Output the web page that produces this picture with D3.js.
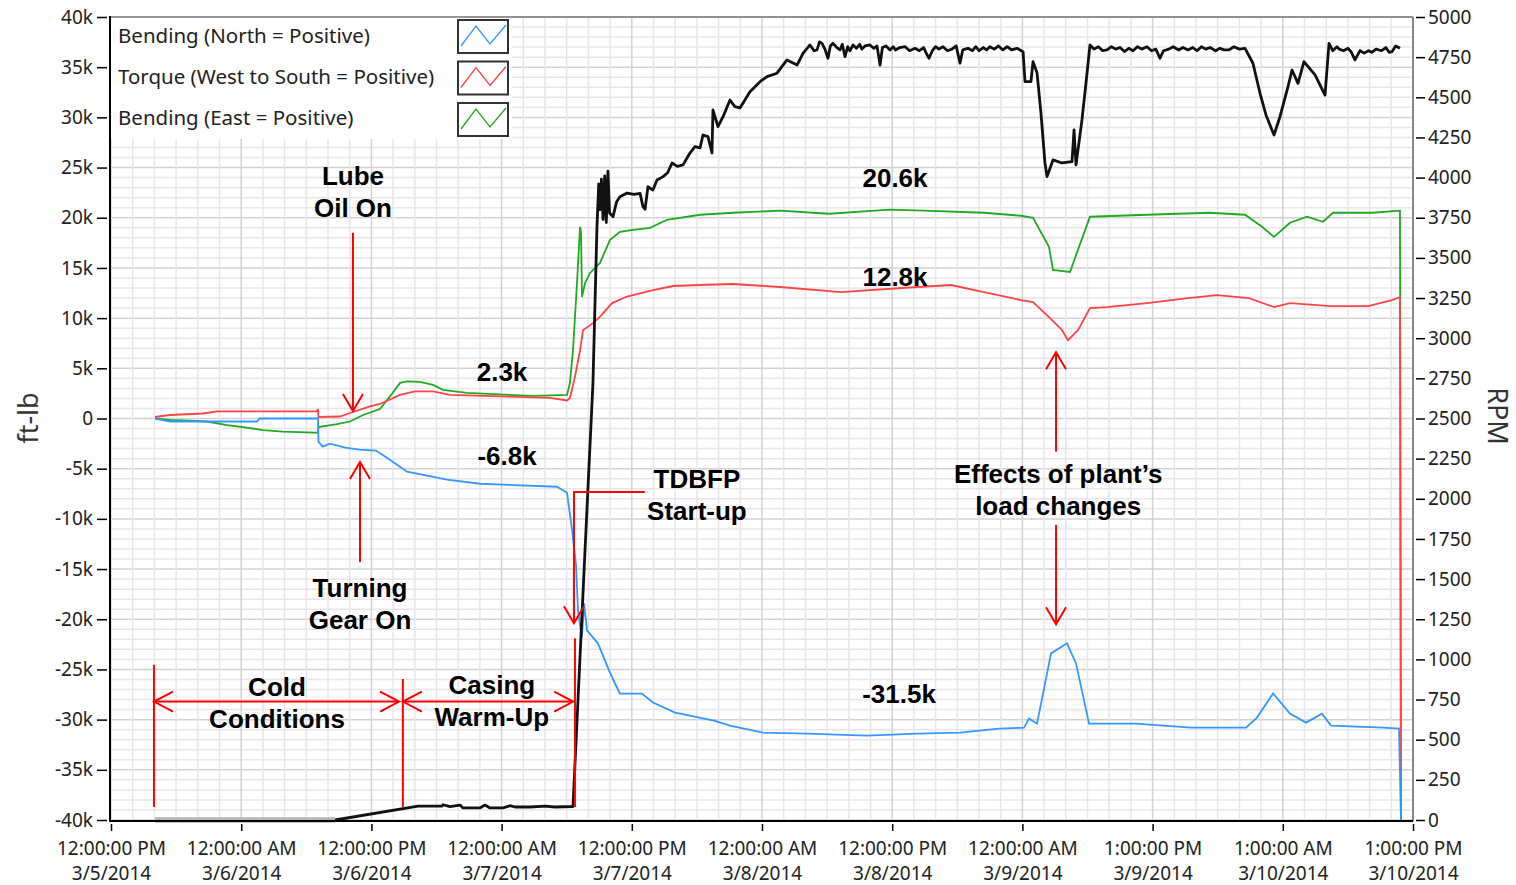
<!DOCTYPE html>
<html>
<head>
<meta charset="utf-8">
<script src="https://cdn.jsdelivr.net/npm/d3@7"></script>
<style>
  body { margin: 0; background: #fff; }
  svg { display: block; }
  .tick text { font-family: "Noto Sans", sans-serif; fill: #222; }
  .note { font-family: "Liberation Sans", Arial, sans-serif; font-weight: bold; font-size: 26px; fill: #000; }
</style>
</head>
<body>
<svg id="chart" width="1516" height="885"></svg>
<script>
// hours since 12:00 PM 3/5/2014, value in k ft-lb
var bendingNorth = [
  [4.06,0],[5.44,-0.3],[13.46,-0.3],[13.7,0],[19.08,0],[19.12,-2.3],[19.5,-2.8],[20.18,-2.5],
  [21.6,-2.9],[22.9,-3.1],[24.42,-3.2],[25.7,-4.1],[27.28,-5.3],[30.97,-6.1],[34.01,-6.5],
  [41.11,-6.8],[42.03,-7.4],[42.49,-11.1],[42.86,-14.6],[43.04,-19.1],[43.23,-20.6],[43.41,-21.8],
  [43.6,-18.4],[43.87,-21.1],[44.88,-22.4],[45.9,-25.1],[46.45,-26.4],[46.91,-27.4],[48.94,-27.4],
  [49.95,-28.3],[51.98,-29.3],[55.58,-30.1],[57.05,-30.6],[60.09,-31.3],[64.15,-31.4],[69.68,-31.6],
  [74.29,-31.4],[78.25,-31.3],[81.84,-30.9],[84.15,-30.8],[84.61,-29.9],[85.35,-30.4],[86.64,-23.4],
  [88.11,-22.4],[88.94,-24.4],[90.14,-30.4],[94.47,-30.4],[99.54,-30.8],[104.61,-30.8],[105.62,-29.8],
  [107.1,-27.4],[108.66,-29.4],[110.14,-30.3],[111.61,-29.4],[112.44,-30.6],[117.24,-30.8],
  [118.71,-30.9],[118.89,-40]
];
var torque = [
  [4.06,0.15],[5.44,0.35],[8.48,0.5],[9.77,0.7],[18.99,0.7],[19.08,0.95],[19.12,0.15],[21.11,0.2],
  [22.03,0.55],[23.87,1.2],[24.79,1.45],[26.64,2.35],[28.02,2.7],[29.68,2.7],[31.24,2.35],[35.85,2.2],
  [40.46,2.05],[42.03,1.8],[42.3,2.05],[42.76,4.15],[43.23,6.8],[43.5,8.8],[44.42,9.5],[45.07,10.15],
  [46.18,11.5],[47.56,12.15],[49.95,12.8],[51.8,13.2],[54.29,13.3],[57.33,13.4],[61.66,13.1],
  [67.28,12.6],[72.9,13.0],[77.42,13.3],[80.46,12.6],[83.87,11.8],[84.98,11.6],[86.45,10.1],
  [87.65,8.8],[88.2,7.8],[89.12,8.8],[90.23,11.0],[91.8,11.1],[95.48,11.5],[99.26,12.0],[101.94,12.3],
  [104.88,12.0],[107.19,11.1],[108.66,11.5],[112.44,11.2],[115.85,11.2],[118.06,11.8],[118.8,12.1],
  [118.89,-40]
];
var bendingEast = [
  [4.06,0],[5.44,-0.15],[8.85,-0.3],[10.69,-0.65],[12.17,-0.85],[14.01,-1.15],[15.85,-1.3],[18.8,-1.4],
  [19.08,-1.4],[19.12,-0.85],[20.83,-0.55],[22.03,-0.3],[23.23,0.35],[24.15,0.7],[24.79,0.95],
  [25.71,2.2],[26.64,3.55],[27.28,3.7],[28.48,3.65],[29.68,3.35],[30.6,2.85],[32.81,2.55],[38.89,2.25],
  [42.03,2.35],[42.3,3.55],[42.58,6.8],[42.95,13.5],[43.23,19.1],[43.32,18.5],[43.41,12.1],[43.69,13.5],
  [44.15,14.5],[45.07,15.5],[45.99,17.8],[46.91,18.6],[48.11,18.8],[49.68,19.0],[51.24,19.8],
  [54.29,20.3],[57.33,20.5],[61.66,20.7],[66.18,20.4],[71.8,20.8],[74.84,20.7],[80.46,20.5],
  [83.87,20.2],[84.98,20.0],[86.45,17.1],[86.82,14.8],[88.39,14.6],[89.12,16.8],[90.23,20.1],
  [95.48,20.3],[101.2,20.5],[104.52,20.3],[106.08,19.1],[107.19,18.1],[108.66,19.5],[110.23,20.1],
  [111.71,19.6],[112.63,20.5],[116.22,20.5],[118.8,20.7],[118.89,-40]
];
// RPM, right axis
var rpm = [
  [4.06,0],[20.65,0],[28.3,87],[30.51,87],[30.6,95],[31.24,83],[32.17,93],[32.44,75],[34.0,75],
  [34.47,93],[34.93,75],[36.13,75],[36.77,89],[37.24,81],[38.62,81],[40.0,87],[40.92,81],[42.58,84],
  [43.69,1681],[44.42,2721],[44.79,3694],[44.95,3960],[45.07,3800],[45.2,3990],[45.35,3740],
  [45.5,4010],[45.65,3720],[45.8,4040],[45.95,3780],[46.27,3757],[46.6,3850],[46.91,3881],
  [47.56,3904],[48.2,3895],[48.76,3902],[49.03,3819],[49.22,3803],[49.49,3943],[49.95,3923],
  [50.32,3985],[50.88,4006],[51.3,4030],[51.71,4091],[52.2,4070],[52.72,4079],[53.36,4153],
  [53.82,4193],[54.29,4185],[54.56,4265],[55.02,4255],[55.39,4153],[55.48,4421],[55.94,4317],
  [56.41,4379],[57.05,4483],[57.51,4442],[57.97,4434],[58.89,4535],[59.82,4597],[60.46,4629],
  [61.38,4650],[62.3,4733],[63.23,4701],[63.78,4774],[64.42,4826],[64.8,4790],[65.07,4795],
  [65.3,4845],[65.53,4836],[65.8,4800],[66.08,4743],[66.3,4820],[66.54,4836],[66.9,4810],
  [67.19,4795],[67.4,4830],[67.65,4753],[67.9,4815],[68.1,4790],[68.39,4826],[68.7,4805],
  [69.0,4830],[69.2,4800],[69.5,4820],[69.95,4826],[70.3,4805],[70.6,4820],[70.88,4701],
  [71.1,4810],[71.43,4820],[71.8,4795],[72.1,4815],[72.3,4795],[72.7,4810],[73.2,4815],
  [73.6,4790],[74.1,4805],[74.5,4790],[74.9,4810],[75.1,4780],[75.39,4743],[75.7,4790],
  [76.0,4815],[76.3,4800],[76.68,4815],[77.1,4790],[77.5,4800],[77.9,4820],[78.25,4712],
  [78.5,4795],[78.99,4805],[79.4,4790],[79.7,4815],[80.0,4790],[80.4,4810],[80.7,4795],
  [81.0,4815],[81.4,4800],[81.8,4820],[82.2,4795],[82.6,4815],[83.0,4795],[83.5,4805],
  [84.06,4784],[84.24,4597],[84.79,4597],[84.98,4722],[85.35,4652],[85.71,4402],[86.08,4091],
  [86.27,4006],[86.82,4110],[87.65,4091],[88.57,4099],[88.76,4297],[88.94,4079],[89.49,4359],
  [89.86,4589],[90.23,4826],[90.6,4800],[91.0,4815],[91.4,4790],[91.8,4795],[92.2,4815],
  [92.6,4800],[93.0,4810],[93.4,4785],[93.8,4805],[94.2,4790],[94.6,4815],[95.0,4800],
  [95.48,4815],[95.9,4790],[96.3,4800],[96.68,4743],[97.0,4790],[97.5,4800],[97.9,4815],
  [98.4,4795],[98.8,4810],[99.26,4795],[99.7,4810],[100.1,4790],[100.5,4815],[100.9,4800],
  [101.3,4810],[101.8,4790],[102.2,4805],[102.6,4795],[103.04,4795],[103.5,4815],[104.0,4800],
  [104.52,4805],[105.25,4712],[105.9,4525],[106.45,4390],[107.19,4265],[107.74,4379],
  [108.48,4566],[108.85,4670],[109.4,4587],[109.95,4722],[110.97,4639],[111.89,4514],
  [112.26,4836],[112.6,4790],[113.0,4815],[113.2,4800],[113.6,4790],[114.0,4805],[114.29,4784],
  [114.65,4733],[115.12,4791],[115.5,4775],[115.9,4790],[116.2,4780],[116.6,4800],[117.1,4790],
  [117.5,4810],[117.8,4780],[118.06,4784],[118.4,4820],[118.8,4805]
];

var ftlbTicks = [-40,-35,-30,-25,-20,-15,-10,-5,0,5,10,15,20,25,30,35,40];
var rpmTicks = [0,250,500,750,1000,1250,1500,1750,2000,2250,2500,2750,3000,3250,3500,3750,4000,4250,4500,4750,5000];
var timeTicks = [0,12,24,36,48,60,72,84,96,108,120];
var timeTickLabels = [
  ["12:00:00 PM","3/5/2014"],["12:00:00 AM","3/6/2014"],["12:00:00 PM","3/6/2014"],
  ["12:00:00 AM","3/7/2014"],["12:00:00 PM","3/7/2014"],["12:00:00 AM","3/8/2014"],
  ["12:00:00 PM","3/8/2014"],["12:00:00 AM","3/9/2014"],["1:00:00 PM","3/9/2014"],
  ["1:00:00 AM","3/10/2014"],["1:00:00 PM","3/10/2014"]
];
var legendNames = ["Bending (North = Positive)", "Torque (West to South = Positive)", "Bending (East = Positive)"];
var legendColors = ["#3399ff", "#ff4444", "#1faa1f"];

// value labels [hour, k, text]
var valueLabels = [[36.04,3.7,"2.3k"],[36.5,-4.6,"-6.8k"],[72.26,23.1,"20.6k"],[72.26,13.25,"12.8k"],[72.63,-28.3,"-31.5k"]];

var plotLeft = 111, plotRight = 1413, plotTop = 17, plotBottom = 820;
var svg = d3.select("#chart");

var x = d3.scaleLinear().domain([0, 120]).range([plotLeft, plotRight]);
var y = d3.scaleLinear().domain([-40, 40]).range([plotBottom, plotTop]);
var yR = d3.scaleLinear().domain([0, 5000]).range([plotBottom, plotTop]);

// grid
var grid = svg.append("g");
grid.selectAll(".hmin").data(d3.range(-40, 41, 1)).enter().append("line")
  .attr("y1", d => y(d)).attr("y2", d => y(d)).attr("x1", plotLeft).attr("x2", plotRight)
  .attr("stroke", d => d % 5 === 0 ? "#d2d2d2" : "#ebe5eb").attr("stroke-width", 1.5);
grid.selectAll(".vmin").data(d3.range(0, 121, 2)).enter().append("line")
  .attr("x1", d => x(d)).attr("x2", d => x(d)).attr("y1", plotTop).attr("y2", plotBottom)
  .attr("stroke", d => d % 12 === 0 ? "#d2d2d2" : "#ebe5eb").attr("stroke-width", 1.5);

// legend
var legend = svg.append("g");
legend.append("rect").attr("x", plotLeft).attr("y", plotTop).attr("width", 401).attr("height", 122).attr("fill", "#fff");
legendNames.forEach(function(name, i) {
  var ty = 43 + i * 41;
  legend.append("text").attr("x", 118).attr("y", ty)
    .style("font-family", "Noto Sans, sans-serif").style("font-size", "20.5px").attr("fill", "#222")
    .text(name);
  var sy = 20 + i * 41.5;
  legend.append("rect").attr("x", 458).attr("y", sy).attr("width", 50).attr("height", 33)
    .attr("fill", "#fff").attr("stroke", "#333").attr("stroke-width", 2);
  legend.append("polyline")
    .attr("points", [[461, sy + 26], [476, sy + 6], [490, sy + 24], [506, sy + 5]].map(p => p.join(",")).join(" "))
    .attr("fill", "none").attr("stroke", legendColors[i]).attr("stroke-width", 1.3);
});

// series
var line = d3.line().x(d => x(d[0])).y(d => y(d[1]));
var lineR = d3.line().x(d => x(d[0])).y(d => yR(d[1]));

svg.append("path").datum(bendingEast).attr("d", line)
  .attr("fill", "none").attr("stroke", legendColors[2]).attr("stroke-width", 1.8);
svg.append("path").datum(torque).attr("d", line)
  .attr("fill", "none").attr("stroke", legendColors[1]).attr("stroke-width", 1.8);
svg.append("path").datum(bendingNorth).attr("d", line)
  .attr("fill", "none").attr("stroke", legendColors[0]).attr("stroke-width", 1.8);

svg.append("path").datum(rpm.filter(d => d[1] === 0)).attr("d", lineR)
  .attr("fill", "none").attr("stroke", "#b5b5b5").attr("stroke-width", 5.5);
svg.append("path").datum(rpm.filter((d, i) => i > 0)).attr("d", lineR)
  .attr("fill", "none").attr("stroke", "#111").attr("stroke-width", 2.8).attr("stroke-linejoin", "round");

// annotations
var red = "#ff0000";
var ann = svg.append("g").attr("stroke", red).attr("stroke-width", 2).attr("fill", "none");

function seg(h1, k1, h2, k2) {
  ann.append("line").attr("x1", x(h1)).attr("y1", y(k1)).attr("x2", x(h2)).attr("y2", y(k2));
}
function headV(h, k, dir) { // dir 1 = pointing down, -1 = up
  var px = x(h), py = y(k);
  ann.append("polyline").attr("points", [[px - 10, py - dir * 17], [px, py], [px + 10, py - dir * 17]].map(p => p.join(",")).join(" "));
}
function headH(h, k, dir) { // dir 1 = pointing right, -1 = left
  var px = x(h), py = y(k);
  ann.append("polyline").attr("points", [[px - dir * 19, py - 10], [px, py], [px - dir * 19, py + 10]].map(p => p.join(",")).join(" "));
}
function note(h, k, lines) {
  lines.forEach(function(t, i) {
    svg.append("text").attr("class", "note").attr("x", x(h)).attr("y", y(k) + i * 32)
      .attr("text-anchor", "middle").text(t);
  });
}

// lube oil on
seg(22.3, 18.5, 22.3, 0.75); headV(22.3, 0.75, 1);
note(22.3, 23.3, ["Lube", "Oil On"]);
// turning gear on
seg(22.95, -14.3, 22.95, -4.33); headV(22.95, -4.33, -1);
note(22.95, -17.8, ["Turning", "Gear On"]);
// cold conditions / casing warm-up
seg(3.96, -24.55, 3.96, -38.7);
seg(26.9, -25.95, 26.9, -38.7);
seg(42.76, -21.9, 42.76, -38.7);
seg(3.96, -28.2, 26.55, -28.2); headH(3.96, -28.2, -1); headH(26.55, -28.2, 1);
seg(26.9, -28.2, 42.6, -28.2); headH(26.9, -28.2, -1); headH(42.6, -28.2, 1);
note(15.3, -27.6, ["Cold", "Conditions"]);
note(35.1, -27.4, ["Casing", "Warm-Up"]);
// TDBFP start-up
ann.append("polyline").attr("points", [[x(49.2), y(-7.32)], [x(42.67), y(-7.32)], [x(42.67), y(-20.4)]].map(p => p.join(",")).join(" "));
headV(42.67, -20.4, 1);
note(54.0, -6.9, ["TDBFP", "Start-up"]);
// load changes
seg(87.1, -3.3, 87.1, 6.6); headV(87.1, 6.6, -1);
seg(87.1, -10.6, 87.1, -20.5); headV(87.1, -20.5, 1);
note(87.3, -6.4, ["Effects of plant\u2019s", "load changes"]);

valueLabels.forEach(function(v) {
  svg.append("text").attr("class", "note").attr("x", x(v[0])).attr("y", y(v[1]))
    .attr("text-anchor", "middle").text(v[2]);
});

// frame
svg.append("line").attr("x1", plotLeft).attr("x2", plotRight).attr("y1", plotTop).attr("y2", plotTop).attr("stroke", "#777").attr("stroke-width", 1.5);
svg.append("line").attr("x1", plotRight).attr("x2", plotRight).attr("y1", plotTop).attr("y2", plotBottom + 1).attr("stroke", "#888").attr("stroke-width", 2);
svg.append("line").attr("x1", plotLeft - 1).attr("x2", plotLeft - 1).attr("y1", plotTop - 1).attr("y2", plotBottom + 2).attr("stroke", "#000").attr("stroke-width", 2);
svg.append("line").attr("x1", plotLeft - 2).attr("x2", plotRight).attr("y1", plotBottom + 1).attr("y2", plotBottom + 1).attr("stroke", "#000").attr("stroke-width", 2);

// axes
var yAxis = svg.append("g").attr("transform", "translate(107,0)")
  .call(d3.axisLeft(y).tickValues(ftlbTicks).tickSizeInner(10).tickSizeOuter(0).tickPadding(4)
    .tickFormat(d => d === 0 ? "0" : d + "k"));
yAxis.select(".domain").remove();
yAxis.selectAll(".tick text").style("font-size", "19px");
yAxis.selectAll(".tick line").attr("stroke", "#000").attr("stroke-width", 1.5);

var rAxis = svg.append("g").attr("transform", "translate(1416,0)")
  .call(d3.axisRight(yR).tickValues(rpmTicks).tickSizeInner(9).tickSizeOuter(0).tickPadding(3)
    .tickFormat(d => String(d)));
rAxis.select(".domain").remove();
rAxis.selectAll(".tick text").style("font-size", "19px");
rAxis.selectAll(".tick line").attr("stroke", "#000").attr("stroke-width", 1.5);

var xAxis = svg.append("g").attr("transform", "translate(0,824)")
  .call(d3.axisBottom(x).tickValues(timeTicks).tickSizeInner(7).tickSizeOuter(0).tickFormat(""));
xAxis.select(".domain").remove();
xAxis.selectAll(".tick line").attr("stroke", "#000").attr("stroke-width", 1.5);
xAxis.selectAll(".tick").each(function(d, i) {
  var t = d3.select(this).append("text").attr("text-anchor", "middle").style("font-size", "19px");
  t.append("tspan").attr("x", 0).attr("y", 31).text(timeTickLabels[i][0]);
  t.append("tspan").attr("x", 0).attr("y", 56).text(timeTickLabels[i][1]);
});

// axis titles
svg.append("text").attr("transform", "translate(38,418) rotate(-90)").attr("text-anchor", "middle")
  .style("font-family", "Noto Sans, sans-serif").style("font-size", "27px").attr("fill", "#333").text("ft-lb");
svg.append("text").attr("transform", "translate(1488,416) rotate(90)").attr("text-anchor", "middle")
  .style("font-family", "Noto Sans, sans-serif").style("font-size", "27px").attr("fill", "#333").text("RPM");
</script>
</body>
</html>
